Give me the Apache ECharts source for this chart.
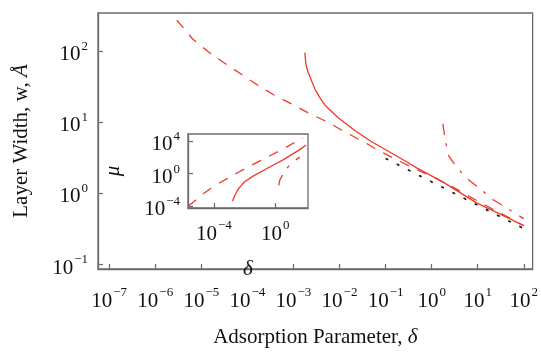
<!DOCTYPE html>
<html>
<head>
<meta charset="utf-8">
<script src="https://cdn.jsdelivr.net/npm/echarts@6/dist/echarts.min.js"></script>
<style>
  html, body { margin: 0; padding: 0; background: #fff; }
  #chart { width: 541px; height: 353px; }
</style>
</head>
<body>
<div id="chart"></div>
<script>
// all values are log10 of the plotted quantity (both axes are logarithmic)

// main plot: layer width w against adsorption parameter delta
var dashedLogDelta = [-5.532, -5.459, -5.188, -4.857, -4.500, -4.141, -3.788, -3.421, -3.030, -2.679, -2.249, -1.890, -1.497, -1.138, -0.745, -0.315, 0.115, 0.500, 1.000, 1.500, 2.000];
var dashedLogW     = [2.435, 2.380, 2.171, 1.995, 1.835, 1.680, 1.527, 1.384, 1.255, 1.133, 1.000, 0.867, 0.733, 0.600, 0.467, 0.333, 0.204, 0.075, -0.108, -0.280, -0.455];

var solidLogDelta = [-2.752, -2.735, -2.716, -2.680, -2.643, -2.535, -2.430, -2.320, -2.034, -1.675, -1.319, -0.960, -0.601, -0.315, 0.259, 0.975, 1.500, 2.000];
var solidLogW     = [1.980, 1.850, 1.777, 1.700, 1.644, 1.467, 1.350, 1.244, 1.067, 0.888, 0.733, 0.600, 0.467, 0.355, 0.155, -0.133, -0.295, -0.452];

var dashDotLogDelta = [0.244, 0.270, 0.294, 0.330, 0.367, 0.509, 0.653, 0.831, 1.046, 1.334, 1.620, 2.000];
var dashDotLogW     = [0.977, 0.860, 0.755, 0.640, 0.533, 0.400, 0.288, 0.177, 0.067, -0.089, -0.200, -0.355];

var asymLogDelta = [-1, 2];
var asymLogW     = [0.492, -0.495];

// inset: mu against delta
var insetDashedLogDelta = [-5.65, -4.62, -3.98, -2.90, -1.70, -0.50, 0.65, 1.79];
var insetDashedLogMu    = [-3.99, -2.39, -1.52, -0.35, 0.91, 2.06, 3.21, 4.45];

var insetSolidLogDelta = [-2.78, -2.63, -2.39, -2.02, -1.47, -0.61, 0.48, 1.57, 2.00];
var insetSolidLogMu    = [-3.41, -2.67, -1.85, -1.03, -0.33, 0.58, 1.68, 2.95, 3.55];

var insetDashDotLogDelta = [0.22, 0.30, 0.52, 0.91, 1.25, 1.60];
var insetDashDotLogMu    = [-1.44, -0.75, 0.00, 1.04, 1.60, 2.05];

// tick exponents
var mainXTicks = [-7, -6, -5, -4, -3, -2, -1, 0, 1, 2];
var mainYTicks = [-1, 0, 1, 2];
var insetXTicks = [-4, 0];
var insetYTicks = [-4, 0, 4];

var FONT = 'Liberation Serif';
var RED = '#f0392b';
var FRAME = '#6b6b6b';

function pairs(xs, ys) {
  return xs.map(function (x, i) { return [x, ys[i]]; });
}

function powLabel(v) {
  var e = v < 0 ? '\u2212' + (-v) : '' + v;
  return '{b|10}{s|' + e + '}';
}

// base sits a bit low, exponent raised by bottom padding
var labelRich = {
  b: { fontFamily: FONT, fontSize: 21, color: '#111', lineHeight: 21, padding: [7, 0, 0, 0] },
  s: { fontFamily: FONT, fontSize: 13, color: '#111', lineHeight: 13, padding: [0, 0, 9, 1] }
};

function valueAxis(opts) {
  return {
    type: 'value',
    gridIndex: opts.grid,
    min: opts.min,
    max: opts.max,
    name: opts.name,
    nameLocation: 'middle',
    nameGap: opts.nameGap,
    nameTextStyle: {
      fontFamily: FONT, fontSize: 21, color: '#111',
      fontStyle: opts.nameItalic ? 'italic' : 'normal',
      rich: { i: { fontFamily: FONT, fontSize: 21, color: '#111', fontStyle: 'italic' } }
    },
    splitLine: { show: false },
    axisLine: { show: true, onZero: false, lineStyle: { color: FRAME, width: 1.3 } },
    axisTick: { show: true, inside: true, length: 5, customValues: opts.ticks, lineStyle: { color: FRAME, width: 1.2 } },
    axisLabel: {
      show: true, customValues: opts.ticks, margin: opts.margin,
      formatter: powLabel, rich: labelRich, align: opts.align
    }
  };
}

function line(x, y, data, dash, color, width) {
  return {
    type: 'line',
    xAxisIndex: x,
    yAxisIndex: y,
    data: data,
    symbol: 'none',
    silent: true,
    clip: true,
    lineStyle: { color: color || RED, width: width || 1.3, type: dash }
  };
}

var chart = echarts.init(document.getElementById('chart'), null, { renderer: 'canvas' });

var option = {
  animation: false,
  backgroundColor: '#fff',
  grid: [
    { left: 98, top: 13, width: 439, height: 270, show: true, borderColor: FRAME, borderWidth: 1.3, backgroundColor: 'transparent' },
    { left: 188, top: 134, width: 120, height: 74, show: true, borderColor: FRAME, borderWidth: 1.3, backgroundColor: '#fff' }
  ],
  xAxis: [
    valueAxis({ grid: 0, min: -7.243, max: 2.193, ticks: mainXTicks, margin: 18, nameGap: 58,
      name: 'Adsorption Parameter, {i|δ}' }),
    valueAxis({ grid: 1, min: -5.68, max: 2.13, ticks: insetXTicks, margin: 12, nameGap: 51,
      name: 'δ', nameItalic: true })
  ],
  yAxis: [
    valueAxis({ grid: 0, min: -1.063, max: 2.537, ticks: mainYTicks, margin: 10, nameGap: 66, align: 'right',
      name: 'Layer Width, w, {i|Å}' }),
    valueAxis({ grid: 1, min: -4.24, max: 4.91, ticks: insetYTicks, margin: 8, nameGap: 64, align: 'right',
      name: 'μ', nameItalic: true })
  ],
  series: [
    line(0, 0, pairs(dashedLogDelta, dashedLogW), [10, 9]),
    line(0, 0, pairs(solidLogDelta, solidLogW), 'solid'),
    line(0, 0, pairs(dashDotLogDelta, dashDotLogW), [11, 8.5, 3, 9]),
    line(0, 0, pairs(asymLogDelta, asymLogW), [3, 9.5], '#1a1a1a', 1.7),
    line(1, 1, pairs(insetDashedLogDelta, insetDashedLogMu), [10, 9]),
    line(1, 1, pairs(insetSolidLogDelta, insetSolidLogMu), 'solid'),
    line(1, 1, pairs(insetDashDotLogDelta, insetDashDotLogMu), [11, 8.5, 3, 9])
  ]
};

chart.setOption(option);
</script>
</body>
</html>
